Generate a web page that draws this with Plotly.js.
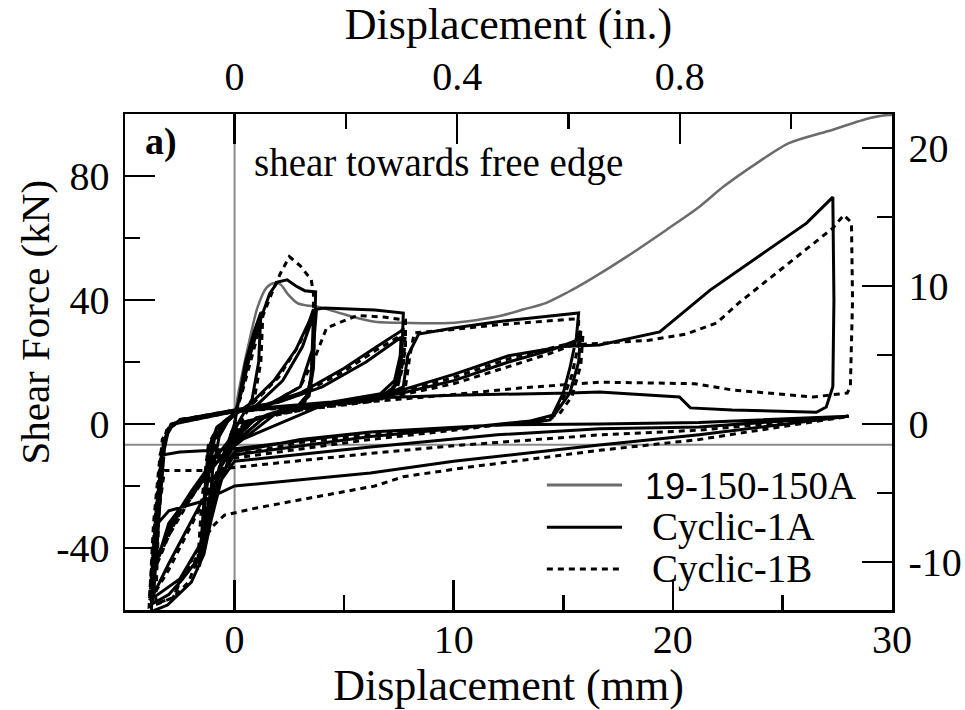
<!DOCTYPE html>
<html>
<head>
<meta charset="utf-8">
<script src="https://cdn.plot.ly/plotly-3.0.1.min.js"></script>
<style>html,body{margin:0;padding:0;background:#fff}#chart{width:965px;height:710px}</style>
</head>
<body>
<div id="chart"></div>
<script>
// ---------------- data (displacement mm, shear force kN) ----------------
const mono19Pts = [
[0,0],[0.05,4],[0.14,8.7],[0.4,18],[0.68,27],[1.05,37.7],[1.46,44],[1.82,45.5],[2.1,45],[2.42,42],[2.87,39],[3.3,38.2],[3.8,37.8],[4.7,36],[5.6,34.2],[6.4,33],[8,32.6],[9.8,32.6],[11,33.5],[12.2,35],[13.2,37],[14.2,39],[15.2,42.5],[16.2,46.5],[17.9,54],[19.7,62.6],[21.2,70],[22.3,76.5],[23.8,84],[25.3,90.6],[27.1,94.5],[29.0,98.7],[29.9,99.7],[30.3,99],[30.7,95.5]
];

const cyclic1APts = [
[0,0],
[0.2,8],[0.5,20],[0.9,30],[1.2,36],[1.1,20],[0.8,8],[0.3,2],[0,-2],[-0.4,-8],[-0.8,-18],[-1.1,-28],[-1.2,-32],[-1.0,-15],[-0.7,-4],[-0.3,1],[0,3],
[0.3,10],[0.7,22],[1.2,34],[1.6,42],[1.96,45.8],[2.4,46.5],[2.8,44.5],[3.2,43],[3.7,42.6],[3.65,30],[3.6,18],[3.4,9],[2.8,5],[1.5,3],[0.5,0],[0,-4],[-0.6,-12],[-1.1,-25],[-1.4,-38],[-1.5,-42],[-1.3,-20],[-1.0,-6],[-0.5,0],[0,3],
[0.8,7],[1.8,14],[2.8,24],[3.4,33],[3.6,37],[3.55,20],[3.4,10],[2.9,6],[1.5,3],[0,-6],[-0.7,-14],[-1.2,-28],[-1.5,-42],[-1.6,-46],[-1.4,-25],[-1.2,-8],[-0.8,-1],[0,3.5],
[1.0,6],[2.2,14],[3.1,25],[3.6,35],[3.5,15],[3.2,7],[2.0,4],[0,-7],[-1.0,-18],[-1.3,-30],[-1.6,-44],[-1.3,-22],[-0.9,-4],[0,4],
[1.5,6],[3.0,12],[3.6,25],[3.74,37],[4.1,37.4],[6.4,36.8],[7.7,35.8],[7.65,25],[7.3,14],[6.6,9.4],[5,7],[3.5,6],[1,2],[0,-3],[-1.0,-12],[-2.0,-22],[-3.0,-33],[-3.5,-43],[-3.6,-46],[-3.4,-25],[-3.2,-8],[-3.0,-1.5],[-2.5,1.3],[-1,3],[0,4.5],
[1.5,6.5],[3,10],[5,18],[6.5,25],[7.6,30],[7.7,31],[7.6,20],[7.3,12],[6.6,8.5],[3.5,5.5],[1,2],[0,-5],[-1.2,-16],[-2.5,-28],[-3.5,-42],[-3.8,-52],[-3.6,-30],[-3.3,-9],[-3.06,-1.9],[-2.74,0],[-1,3],[0,4.5],
[2,7],[4,12],[6,20],[7.6,28],[7.5,14],[7.0,9],[4,6],[0,-6],[-1.5,-18],[-3,-32],[-3.7,-48],[-3.5,-25],[-3.2,-5],[-2.9,0],[-1,3],[0,4.5],
[3.5,6.5],[6.6,8.5],[7.7,12],[7.9,22],[8.4,29],[10,31],[12,33],[14,34.5],[15.7,35.8],[15.6,28],[15.3,18],[15,10],[14.4,1.3],[13.5,0.3],[10,-1],[6.2,-2.6],[3,-5],[0,-9],[-0.3,-12],[-0.6,-18],[-1.07,-31],[-1.4,-42],[-1.97,-51],[-3.06,-58.4],[-3.8,-60.5],[-3.57,-31],[-3.34,-9.4],[-3.06,-1.9],[-2.74,-0.3],[-2.5,1.3],[0,4.5],
[4,6.5],[7.66,10],[10,14],[12.5,20],[14.5,24],[15.6,27],[15.8,30],[15.7,20],[15.3,10],[14.6,3],[13.5,1],[10,-1.5],[6.2,-4],[0,-10],[-1.5,-25],[-3.0,-45],[-3.7,-55],[-3.8,-58],[-3.5,-28],[-3.2,-5],[-2.8,0],[0,4],
[4,6.5],[7.66,11],[10,16],[12.5,22],[15,25],[16.65,25.5],[19.4,29.7],[21.7,43.2],[24.5,57],[26.1,64.8],[27.3,73.2],[27.35,40],[27.3,12],[27.0,5.5],[26.55,3.8],[22.7,4.5],[20.8,5.2],[20.3,8.7],[16.65,10.3],[15.3,10],[10,9.3],[6.6,8.5],[3,5],[0,0],
[-0.5,-10],[-1.2,-32],[-1.5,-42],[-2.37,-50],[-3.0,-55],[-3.75,-58],[-3.55,-28],[-3.3,-10],[-2.5,-9],[-1,-8.5],[0,-8],[6.2,-2.6],[12,-0.3],[16.65,0],[21.2,0.5],[28,2.5],
[21.2,-1],[16.65,-1.5],[12,-3.5],[6.2,-7.4],[0,-12],[-0.8,-20],[-1.5,-38],[-2.5,-50],[-3.5,-55],[-3.7,-56],[-3.5,-35],[-3.5,-32],[-3.0,-28],[-1.5,-25],[0,-20],[6.2,-15.8],[10,-12],[16.65,-6.8],[21.2,-3.5],[28,2.5]
];

const cyclic1BPts = [
[0,0],
[0.2,7],[0.5,18],[0.9,29],[1.3,37],[1.2,20],[0.9,8],[0.4,2],[0,-3],[-0.5,-10],[-0.9,-20],[-1.2,-30],[-1.3,-34],[-1.1,-15],[-0.8,-4],[-0.3,1],[0,3],
[0.3,9],[0.8,22],[1.3,35],[1.8,44],[2.1,48.7],[2.5,54],[3.0,51],[3.5,46.5],[3.6,42],[3.6,28],[3.5,16],[3.3,8],[2.6,4.5],[1.4,2.5],[0.4,0],[0,-5],[-0.7,-14],[-1.2,-28],[-1.5,-40],[-1.6,-45],[-1.4,-22],[-1.1,-6],[-0.6,0],[0,3],
[0.9,7],[2.0,15],[2.9,25],[3.5,34],[3.65,36],[3.6,20],[3.4,10],[2.9,5.5],[1.5,3],[0,-6],[-0.8,-15],[-1.3,-30],[-1.6,-43],[-1.7,-47],[-1.5,-25],[-1.2,-7],[-0.8,-1],[0,3.5],
[1.5,6],[3.0,12],[3.7,22],[4.2,31],[5.6,35],[6.8,34.5],[7.8,33.5],[7.8,24],[7.5,14],[6.9,9.5],[5,7.5],[3.5,6],[1,2],[0,-4],[-1.0,-13],[-2.0,-24],[-3.0,-36],[-3.5,-45],[-3.7,-48],[-3.5,-26],[-3.3,-8],[-3.0,-1],[-2.5,1.5],[-1,3],[0,4.5],
[1.5,6],[3,9.5],[5,17],[6.5,24],[7.7,29],[7.8,30],[7.7,19],[7.4,11],[6.7,8],[3.5,5],[1,2],[0,-5],[-1.3,-17],[-2.6,-30],[-3.6,-45],[-3.85,-54],[-3.6,-30],[-3.3,-9],[-3.0,-1.5],[-2.7,0.5],[-1,3],[0,4.5],
[3.5,6],[6.4,7.3],[7.8,12],[8.0,22],[8.2,29.4],[10,30.5],[12,32],[14,33],[15.7,34],[15.7,26],[15.4,16],[15.0,8],[14.5,2],[13.5,0.5],[10,-1.5],[6.2,-3.5],[3,-6],[0,-10],[-0.4,-14],[-0.8,-22],[-1.2,-34],[-1.6,-42],[-2.1,-51],[-2.8,-56],[-3.5,-58],[-3.9,-59],[-3.7,-32],[-3.4,-10],[-3.1,-2],[-2.7,0],[-2.4,1.5],[0,4.5],
[4,6],[7.7,9.5],[10,13],[12.5,18.5],[14.5,23],[15.6,26],[15.9,29],[15.8,19],[15.4,9],[14.8,3],[13.6,1],[10,-2],[6.2,-5],[0,-11],[-1.5,-26],[-3.0,-47],[-3.6,-54],[-3.9,-57],[-3.6,-28],[-3.3,-5],[-2.9,0],[0,4],
[4,6],[7.7,10.5],[10,15],[12.5,21],[15,25.5],[16.65,26],[18.9,27],[20.6,29],[22,32.6],[23,39],[24.5,47.4],[26.2,57],[27.3,63.2],[27.8,67.4],[28.15,65],[28.2,40],[28.1,12],[27.96,10],[26.4,8.7],[22.7,11],[21,13],[16.65,13.5],[13,11.6],[10,9.5],[6.4,7.3],[3,4.5],[0,0],
[-0.6,-12],[-1.2,-30],[-1.8,-44],[-2.37,-49],[-2.8,-56],[-3.6,-58],[-3.45,-28],[-3.2,-15],[-1.5,-15],[0,-14],[6.2,-9.5],[10,-7],[16.65,-3.5],[21.2,-2],[28.05,2.5],
[21.2,-5],[16.65,-8.5],[10.7,-13.9],[7.7,-17],[6.4,-20],[1.05,-27],[-0.46,-29.4],[-1.0,-33],[-1.9,-43],[-2.37,-49],[-2.8,-56]
];

// axis ticks
const xTickVals = [0, 10, 20, 30];
const xTickText = ['0', '10', '20', '30'];
const xMinorVals = [-5, 5, 15, 25];
const yTickVals = [-40, 0, 40, 80];
const yTickText = ['-40', '0', '40', '80'];
const yMinorVals = [-60, -20, 20, 60, 100];
const inTickVals = [0, 0.4, 0.8];
const inTickText = ['0', '0.4', '0.8'];
const inMinorVals = [0.2, 0.6, 1.0];
const kipTickVals = [-10, 0, 10, 20];
const kipTickText = ['-10', '0', '10', '20'];
const kipMinorVals = [-5, 5, 15];

const xRangeMM = [-5, 30];
const yRangeKN = [-60, 100];
const MM_PER_IN = 25.4;
const KN_PER_KIP = 4.448;
const refLineX = 0;       // vertical grey reference line (mm)
const refLineY = -6.7;    // horizontal grey reference line (kN)

const seriesNames = ['19-150-150A', 'Cyclic-1A', 'Cyclic-1B'];
const yTitleText = 'Shear Force (kN)';

// ---------------- chart ----------------
const serif = 'Liberation Serif, Times New Roman, serif';
const GREY = '#6b6b6b';
const DOT = '6px,5px';

const xs = p => p.map(d => d[0]);
const ys = p => p.map(d => d[1]);

const traces = [
  {x: xs(mono19Pts), y: ys(mono19Pts), name: seriesNames[0], type: 'scatter', mode: 'lines',
   line: {color: GREY, width: 2.5, shape: 'spline', smoothing: 0.8}, hoverinfo: 'skip'},
  {x: xs(cyclic1APts), y: ys(cyclic1APts), name: seriesNames[1], type: 'scatter', mode: 'lines',
   line: {color: '#000', width: 3}, hoverinfo: 'skip'},
  {x: xs(cyclic1BPts), y: ys(cyclic1BPts), name: seriesNames[2], type: 'scatter', mode: 'lines',
   line: {color: '#000', width: 3, dash: DOT}, hoverinfo: 'skip'},
  // same monotonic data in inches / kips to carry the secondary axes
  {x: xs(mono19Pts).map(v => v / MM_PER_IN), y: ys(mono19Pts).map(v => v / KN_PER_KIP),
   xaxis: 'x2', yaxis: 'y2', type: 'scatter', mode: 'lines', opacity: 0, hoverinfo: 'skip', showlegend: false,
   line: {color: GREY, width: 1}}
];

const axisCommon = {
  ticks: 'inside', ticklen: 30, tickwidth: 2.5, tickcolor: '#000',
  showline: true, linewidth: 2.5, linecolor: '#000',
  showgrid: false, zeroline: false,
  tickfont: {family: serif, size: 40, color: '#000'}
};
const minorCommon = {ticks: 'inside', ticklen: 15, tickwidth: 2.5, tickcolor: '#000', showgrid: false, tickmode: 'array'};

// manual legend (long line samples as in the original)
const legY = [0.252, 0.167, 0.0827];
const legX0 = 0.550, legX1 = 0.648, legTextX = 0.675;

const layout = {
  width: 965, height: 710,
  margin: {l: 125, r: 73, t: 114, b: 100, pad: 0},
  paper_bgcolor: '#fff', plot_bgcolor: '#fff',
  showlegend: false,
  font: {family: serif, size: 40, color: '#000'},
  xaxis: Object.assign({}, axisCommon, {
    range: xRangeMM, tickmode: 'array', tickvals: xTickVals, ticktext: xTickText,
    minor: Object.assign({}, minorCommon, {tickvals: xMinorVals}),
    ticklabelstandoff: -8,
    title: {text: 'Displacement (mm)', font: {family: serif, size: 44, color: '#000'}, standoff: 6}
  }),
  yaxis: Object.assign({}, axisCommon, {
    range: yRangeKN, tickmode: 'array', tickvals: yTickVals, ticktext: yTickText,
    minor: Object.assign({}, minorCommon, {tickvals: yMinorVals}),
    ticklabelstandoff: 5
  }),
  xaxis2: Object.assign({}, axisCommon, {
    overlaying: 'x', side: 'top', anchor: 'y2',
    range: xRangeMM.map(v => v / MM_PER_IN), tickmode: 'array', tickvals: inTickVals, ticktext: inTickText,
    minor: Object.assign({}, minorCommon, {tickvals: inMinorVals}),
    ticklabelstandoff: 6,
    title: {text: 'Displacement (in.)', font: {family: serif, size: 44, color: '#000'}, standoff: 2}
  }),
  yaxis2: Object.assign({}, axisCommon, {
    overlaying: 'y', side: 'right', anchor: 'x2',
    range: yRangeKN.map(v => v / KN_PER_KIP), tickmode: 'array', tickvals: kipTickVals, ticktext: kipTickText,
    minor: Object.assign({}, minorCommon, {tickvals: kipMinorVals}),
    ticklabelstandoff: 6
  }),
  shapes: [
    {type: 'line', xref: 'x', yref: 'paper', x0: refLineX, x1: refLineX, y0: 0, y1: 1, layer: 'below',
     line: {color: '#8a8a8a', width: 2}},
    {type: 'line', xref: 'paper', yref: 'y', x0: 0, x1: 1, y0: refLineY, y1: refLineY, layer: 'below',
     line: {color: '#8a8a8a', width: 2}},
    {type: 'line', xref: 'paper', yref: 'paper', x0: legX0, x1: legX1, y0: legY[0], y1: legY[0], line: {color: GREY, width: 3}},
    {type: 'line', xref: 'paper', yref: 'paper', x0: legX0, x1: legX1, y0: legY[1], y1: legY[1], line: {color: '#000', width: 3}},
    {type: 'line', xref: 'paper', yref: 'paper', x0: legX0, x1: legX1, y0: legY[2], y1: legY[2], line: {color: '#000', width: 3, dash: DOT}}
  ],
  annotations: [
    {xref: 'paper', yref: 'paper', x: -0.117, y: 0.58, xanchor: 'center', yanchor: 'middle', showarrow: false,
     textangle: -90, text: yTitleText, font: {family: serif, size: 41, color: '#000'}},
    {xref: 'paper', yref: 'paper', x: 0.024, y: 0.944, xanchor: 'left', yanchor: 'middle', showarrow: false,
     text: '<b>a)</b>', font: {family: serif, size: 38, color: '#000'}},
    {xref: 'paper', yref: 'paper', x: 0.166, y: 0.901, xanchor: 'left', yanchor: 'middle', showarrow: false,
     text: 'shear towards free edge', font: {family: serif, size: 39, color: '#000'}},
    {xref: 'paper', yref: 'paper', x: legTextX, y: legY[0], xanchor: 'left', yanchor: 'middle', showarrow: false,
     text: '<span style="font-family:Liberation Sans, Arial, sans-serif;font-size:36px">19</span>' + seriesNames[0].slice(2),
     font: {family: serif, size: 39, color: '#000'}},
    {xref: 'paper', yref: 'paper', x: legTextX + 0.009, y: legY[1], xanchor: 'left', yanchor: 'middle', showarrow: false,
     text: seriesNames[1], font: {family: serif, size: 39, color: '#000'}},
    {xref: 'paper', yref: 'paper', x: legTextX + 0.009, y: legY[2], xanchor: 'left', yanchor: 'middle', showarrow: false,
     text: seriesNames[2], font: {family: serif, size: 39, color: '#000'}}
  ]
};

Plotly.newPlot('chart', traces, layout, {staticPlot: true, displayModeBar: false});
</script>
</body>
</html>
